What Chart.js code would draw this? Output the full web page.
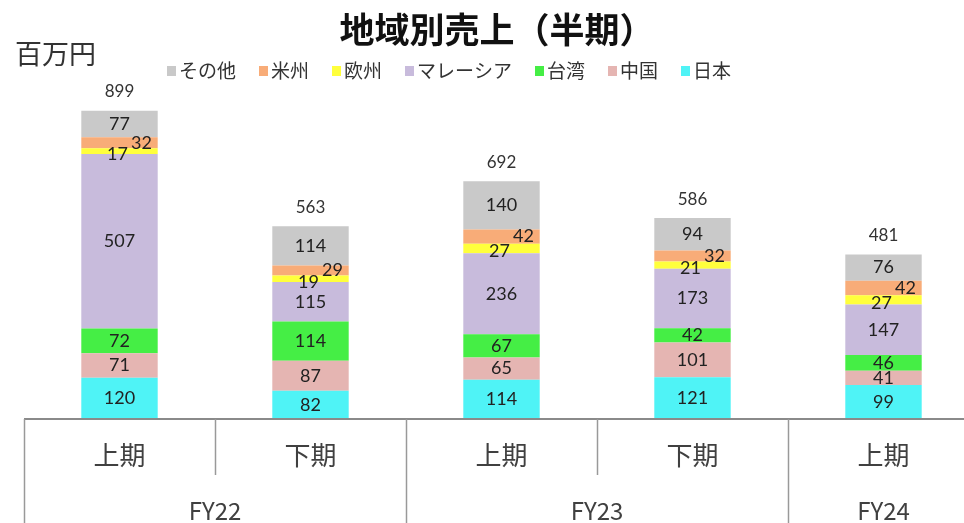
<!DOCTYPE html>
<html><head><meta charset="utf-8">
<script src="https://cdn.jsdelivr.net/npm/chart.js@4/dist/chart.umd.min.js"></script>
<style>
html,body{margin:0;padding:0;background:#fff;overflow:hidden;}
#wrap{width:980px;height:523px;position:relative;}
</style></head>
<body><div id="wrap"><canvas id="c"></canvas></div>
<script>
const halves = ['上期','下期','上期','下期','上期'];
const years = ['FY22','FY23','FY24'];
const yearSpans = [2,2,1];
const japan    = [120, 82, 114, 121, 99];
const china    = [71, 87, 65, 101, 41];
const taiwan   = [72, 114, 67, 42, 46];
const malaysia = [507, 115, 236, 173, 147];
const europe   = [17, 19, 27, 21, 27];
const americas = [32, 29, 42, 32, 42];
const others   = [77, 114, 140, 94, 76];
const totals   = [899, 563, 692, 586, 481];
const seriesNames = ['日本','中国','台湾','マレーシア','欧州','米州','その他'];
const seriesColors = ['#4FF3F6','#E5B5B2','#45EE45','#C8BBDC','#FFFF3C','#F8AC78','#C9C9C9'];
const titleText = '地域別売上（半期）';
const unitText = '百万円';

const seriesData = [japan, china, taiwan, malaysia, europe, americas, others];
const datasets = seriesData.map((d,i)=>({
  label: seriesNames[i], data: d, backgroundColor: seriesColors[i],
  borderWidth: 0, barPercentage: 0.8, categoryPercentage: 0.5
}));

const JP = '"Noto Sans CJK JP", sans-serif';
const NUM = 'Lato, "Noto Sans", sans-serif';

const deco = {
  id: 'deco',
  afterDatasetsDraw(chart) {
    const ctx = chart.ctx;
    const xs = chart.scales.x;
    const area = chart.chartArea;
    ctx.save();
    ctx.textAlign = 'center';
    ctx.textBaseline = 'middle';
    ctx.font = '18px ' + NUM;
    chart.data.datasets.forEach((ds, di) => {
      const meta = chart.getDatasetMeta(di);
      meta.data.forEach((bar, i) => {
        const cy = (bar.y + bar.base) / 2;
        let dx = 0, dy = 0;
        if (di === 4) { dx = -2; dy = 3; }
        if (di === 5) { dx = 22; dy = 0; }
        ctx.fillStyle = '#222';
        ctx.fillText(String(ds.data[i]), bar.x + dx, cy + dy);
      });
    });
    const topMeta = chart.getDatasetMeta(chart.data.datasets.length - 1);
    ctx.fillStyle = '#333';
    ctx.font = '17px ' + NUM;
    topMeta.data.forEach((bar, i) => {
      ctx.fillText(String(totals[i]), bar.x, bar.y - 19);
    });
    ctx.strokeStyle = '#8a8a8a';
    ctx.lineWidth = 2;
    ctx.beginPath();
    ctx.moveTo(area.left, area.bottom); ctx.lineTo(area.right, area.bottom);
    ctx.stroke();
    const n = halves.length;
    const step = xs.getPixelForValue(1) - xs.getPixelForValue(0);
    const bounds = [];
    for (let i = 0; i <= n; i++) bounds.push(xs.getPixelForValue(0) - step / 2 + i * step);
    const yearBounds = new Set([0]);
    let acc = 0;
    yearSpans.forEach(s => { acc += s; yearBounds.add(acc); });
    ctx.lineWidth = 1.5;
    ctx.strokeStyle = '#999';
    bounds.forEach((p, i) => {
      const full = yearBounds.has(i);
      ctx.beginPath();
      ctx.moveTo(Math.round(p) + 0.5, area.bottom);
      ctx.lineTo(Math.round(p) + 0.5, full ? 523 : area.bottom + 56);
      ctx.stroke();
    });
    ctx.fillStyle = '#404040';
    ctx.font = '26px ' + JP;
    halves.forEach((h, i) => ctx.fillText(h, xs.getPixelForValue(i), 455));
    ctx.font = '24px ' + JP;
    let start = 0;
    years.forEach((y, k) => {
      const cx = (bounds[start] + bounds[start + yearSpans[k]]) / 2;
      ctx.fillText(y, cx, 511);
      start += yearSpans[k];
    });
    ctx.fillStyle = '#111';
    ctx.font = 'bold 35px ' + JP;
    ctx.fillText(titleText, 497, 30);
    ctx.fillStyle = '#333';
    ctx.textAlign = 'left';
    ctx.font = '27px ' + JP;
    ctx.fillText(unitText, 15, 54);
    ctx.font = '19px ' + JP;
    let lx = 167;
    const ly = 71;
    for (let di = chart.data.datasets.length - 1; di >= 0; di--) {
      const ds = chart.data.datasets[di];
      ctx.fillStyle = ds.backgroundColor;
      ctx.fillRect(lx, ly - 5, 9, 10);
      ctx.fillStyle = '#333';
      ctx.fillText(ds.label, lx + 12, ly);
      lx += 12 + ctx.measureText(ds.label).width + 23;
    }
    ctx.restore();
  }
};

new Chart(document.getElementById('c'), {
  type: 'bar',
  data: { labels: halves, datasets },
  options: {
    responsive: true, maintainAspectRatio: false, animation: false,
    layout: { padding: { left: 24, right: 1, top: 99, bottom: 104 } },
    plugins: { legend: { display: false }, title: { display: false }, tooltip: { enabled: false } },
    scales: {
      x: { stacked: true, display: false },
      y: { stacked: true, display: false, min: 0, max: 930 }
    }
  },
  plugins: [deco]
});
</script></body></html>
